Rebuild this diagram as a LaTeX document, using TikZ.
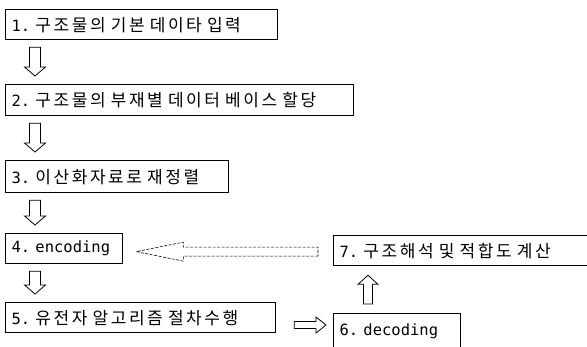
\documentclass[tikz,border=0pt]{standalone}
\usepackage{fontspec}
\setmainfont{DejaVu Sans Mono}
\newfontfamily\kr[LetterSpace=15]{Noto Sans CJK KR}
\newcommand\K[1]{{\kr\fontsize{17}{19}\selectfont #1}}
\usetikzlibrary{calc}
\newcommand\DownArr[2]{%
  \draw[hollow] let \p1=($(#1.south west)+(30,0)$), \p2=(#2.north) in
    (\x1-5.5pt,\y1-7pt) -- (\x1-5.5pt,\y2+17pt) -- (\x1-10.5pt,\y2+17pt) --
    (\x1,\y2+8pt) -- (\x1+10.5pt,\y2+17pt) -- (\x1+5.5pt,\y2+17pt) --
    (\x1+5.5pt,\y1-7pt) -- cycle;}
\begin{document}
\begin{tikzpicture}[x=1pt,y=-1pt,
  box/.style={draw, line width=1.3pt, anchor=north west, inner xsep=6pt,
    inner ysep=0pt, align=left, font=\fontsize{15.5}{18}\selectfont},
  hollow/.style={draw, line width=0.8pt, line join=miter},
  dashedarrow/.style={draw, line width=0.6pt, dash pattern=on 3pt off 1.5pt}]
\useasboundingbox (0,0) rectangle (587,347);
\node[box, minimum height=30pt, text width=260pt] (b1) at (5,9)
  {1.\ \K{구조물의} \K{기본} \K{데이타} \K{입력}};
\node[box, minimum height=31pt, text width=336pt] (b2) at (5,84)
  {2.\ \K{구조물의} \K{부재별} \K{데이터} \K{베이스} \K{할당}};
\node[box, minimum height=32pt, text width=211pt] (b3) at (5,160)
  {3.\ \K{이산화자료로} \K{재정렬}};
\node[box, minimum height=30pt, text width=105pt] (b4) at (5,233)
  {4.\ encoding};
\node[box, minimum height=30pt, text width=258pt] (b5) at (5,302)
  {5.\ \K{유전자} \K{알고리즘} \K{절차수행}};
\node[box, minimum height=45pt, text width=115pt, text depth=14pt] (b6) at (333,313)
  {6.\ decoding};
\node[box, minimum height=30pt, text width=258pt] (b7) at (333,235)
  {7.\ \K{구조해석} \K{및} \K{적합도} \K{계산}};
\DownArr{b1}{b2}
\DownArr{b2}{b3}
\DownArr{b3}{b4}
\DownArr{b4}{b5}
% 5 -> 6
\draw[hollow] let \p1=(b5.east), \p2=($(b6.north west)+(0,12)$) in
  (\x1+18pt,\y2+3.5pt) -- (\x2-17pt,\y2+3.5pt) -- (\x2-17pt,\y2+8pt) --
  (\x2-7pt,\y2) -- (\x2-17pt,\y2-8pt) -- (\x2-17pt,\y2-3.5pt) --
  (\x1+18pt,\y2-3.5pt) -- cycle;
% 6 -> 7
\draw[hollow] let \p1=($(b6.north west)+(35,0)$), \p2=(b7.south) in
  (\x1-4.5pt,\y1+9pt) -- (\x1-4.5pt,\y2-18pt) -- (\x1-10pt,\y2-18pt) --
  (\x1,\y2-9pt) -- (\x1+10pt,\y2-18pt) -- (\x1+4.5pt,\y2-18pt) --
  (\x1+4.5pt,\y1+9pt) -- cycle;
% 7 -> 4 dashed
\draw[dashedarrow] let \p1=(b7.west), \p2=(b4.east) in
  (\x1-15pt,\y1-5.5pt) -- (\x2+60pt,\y1-5.5pt) -- (\x2+60pt,\y1-10.5pt) --
  (\x2+13pt,\y1-1pt) -- (\x2+60pt,\y1+8.5pt) -- (\x2+60pt,\y1+3.5pt) --
  (\x1-15pt,\y1+3.5pt) -- cycle;
\end{tikzpicture}
\end{document}
